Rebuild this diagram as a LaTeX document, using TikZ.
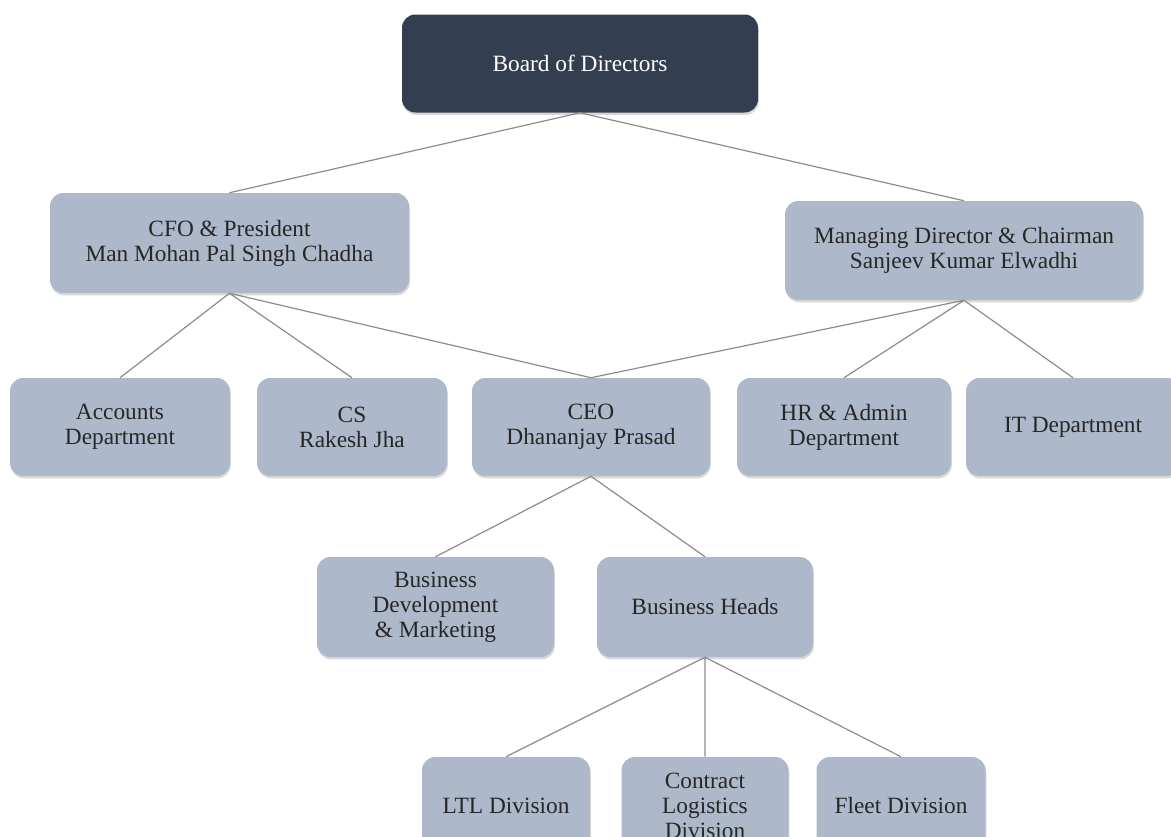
\documentclass[tikz,border=0pt]{standalone}
\usepackage{fontspec}
\setmainfont{Liberation Serif}
\usetikzlibrary{shadows}
\definecolor{boxblue}{HTML}{ADB9CA}
\definecolor{boxdark}{HTML}{333F50}
\definecolor{linegray}{HTML}{8C8C8C}
\begin{document}
\begin{tikzpicture}[x=0.75pt, y=-0.75pt,
    box/.style={rectangle, rounded corners=10pt, fill=boxblue, text=black!85,
        align=center, font=\fontsize{17.5}{18.75}\selectfont,
        minimum height=73.5pt, inner sep=2pt,
        drop shadow={shadow xshift=0.6pt, shadow yshift=-1.8pt, opacity=0.3}},
    topbox/.style={box, fill=boxdark, text=white},
    link/.style={draw=linegray, line width=0.9pt}]
                        \fill[white] (0,0) rectangle (1171,836);
                        \useasboundingbox (0,0) rectangle (1171,836);

                        \node[topbox, minimum width=267pt] (bod) at (580, 63.5) {Board of Directors};
                        \node[box, minimum width=269.25pt, minimum height=75pt] (cfo) at (229.5, 243) {CFO \& President\\Man Mohan Pal Singh Chadha};
                        \node[box, minimum width=268.5pt, minimum height=74.25pt] (md) at (964, 250.5) {Managing Director \& Chairman\\Sanjeev Kumar Elwadhi};
                        \node[box, minimum width=165pt] (acc) at (120, 427) {Accounts\\Department};
                        \node[box, minimum width=142.5pt] (cs) at (352, 427) {CS\\Rakesh Jha};
                        \node[box, minimum width=178.5pt] (ceo) at (591, 427) {CEO\\Dhananjay Prasad};
                        \node[box, minimum width=160.5pt] (hr) at (844, 427) {HR \& Admin\\Department};
                        \node[box, minimum width=160.5pt] (it) at (1073, 427) {IT Department};
                        \node[box, minimum width=177.75pt, minimum height=75pt] (bdm) at (435.5, 607) {Business\\Development\\\& Marketing};
                        \node[box, minimum width=162pt, minimum height=75pt] (bh) at (705, 607) {Business Heads};
                        \node[box, minimum width=126pt] (ltl) at (506, 806) {LTL Division};
                        \node[box, minimum width=125.25pt] (cld) at (705, 806) {Contract\\Logistics\\Division};
                        \node[box, minimum width=126.75pt] (fleet) at (901, 806) {Fleet Division};

                        \draw[link]
                        (bod.south) -- (cfo.north)
                        (bod.south) -- (md.north)
                        (cfo.south) -- (acc.north)
                        (cfo.south) -- (cs.north)
                        (cfo.south) -- (ceo.north)
                        (md.south) -- (ceo.north)
                        (md.south) -- (hr.north)
                        (md.south) -- (it.north)
                        (ceo.south) -- (bdm.north)
                        (ceo.south) -- (bh.north)
                        (bh.south) -- (ltl.north)
                        (bh.south) -- (cld.north)
                        (bh.south) -- (fleet.north);
                    \end{tikzpicture}
\end{document}
